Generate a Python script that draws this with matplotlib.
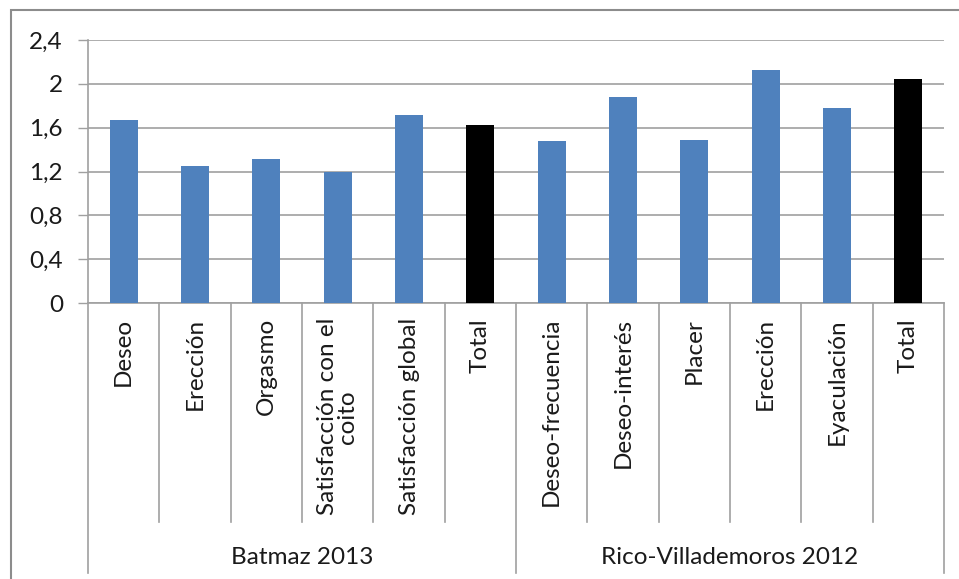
import matplotlib
matplotlib.use("Agg")
import matplotlib.pyplot as plt
import matplotlib.transforms as mtransforms
from matplotlib.patches import Rectangle

# --- data ---
categories = ["Deseo", "Erección", "Orgasmo", "Satisfacción con el\ncoito",
              "Satisfacción global", "Total",
              "Deseo-frecuencia", "Deseo-interés", "Placer", "Erección",
              "Eyaculación", "Total"]
values = [1.67, 1.25, 1.31, 1.20, 1.72, 1.62,
          1.48, 1.88, 1.49, 2.13, 1.78, 2.04]
groups = ["Batmaz 2013", "Rico-Villademoros 2012"]
group_sizes = [6, 6]
y_ticks = [0, 0.4, 0.8, 1.2, 1.6, 2.0, 2.4]
y_labels = ["0", "0,4", "0,8", "1,2", "1,6", "2", "2,4"]

BLUE = "#4f81bd"
GRID = "#a0a0a0"
TEXT = "#1a1a1a"

plt.rcParams["font.family"] = ["Lato", "DejaVu Sans"]

W, H = 959, 579
fig = plt.figure(figsize=(W / 100, H / 100), dpi=100)

# axes box in pixel terms
left, right, top, bottom = 88, 944, 40, 303
ax = fig.add_axes([left / W, 1 - bottom / H, (right - left) / W, (bottom - top) / H])

x = list(range(len(values)))
# the "Total" bar of each group is black
colors = []
for name in categories:
    colors.append("black" if name == "Total" else BLUE)
ax.bar(x, values, width=0.39, color=colors, zorder=3)

ax.set_xlim(-0.5, len(values) - 0.5)
ax.set_ylim(0, 2.4)
ax.set_yticks(y_ticks)
ax.set_yticklabels(y_labels, fontsize=17.5, color=TEXT)
ax.set_xticks([])
ax.yaxis.grid(True, color=GRID, linewidth=1.2, zorder=0)
ax.tick_params(axis="y", length=7, width=1, color=GRID, pad=11)

for s in ["top", "right"]:
    ax.spines[s].set_visible(False)
for s in ["left", "bottom"]:
    ax.spines[s].set_color(GRID)
    ax.spines[s].set_linewidth(1.2)

# category separators under the axis
trans = mtransforms.blended_transform_factory(ax.transData, ax.transAxes)
inner_end = (bottom - 522) / (bottom - top)
outer_end = (bottom - 573) / (bottom - top)
group_edges = [-0.5]
for n in group_sizes:
    group_edges.append(group_edges[-1] + n)
for i in range(len(values) + 1):
    xb = i - 0.5
    y_end = outer_end if xb in group_edges else inner_end
    ax.plot([xb, xb], [0, y_end], transform=trans, color=GRID,
            linewidth=1.2, clip_on=False)

# category labels (rotated)
label_top = (bottom - 318) / (bottom - top)
for xi, name in zip(x, categories):
    ax.text(xi, label_top, name, transform=trans, rotation=90,
            ha="center", va="top", multialignment="center",
            fontsize=17.5, color=TEXT, linespacing=0.95)

# group labels
group_y = (bottom - 557) / (bottom - top)
for gi, name in enumerate(groups):
    xc = (group_edges[gi] + group_edges[gi + 1]) / 2
    ax.text(xc, group_y, name, transform=trans, ha="center", va="center",
            fontsize=17.5, color=TEXT)

# outer chart border (right/bottom edges fall off the picture)
fig.patches.append(Rectangle((11 / W, -0.1), 1.2, 1 - 10 / H + 0.1,
                             transform=fig.transFigure, fill=False,
                             edgecolor="#8c8c8c", linewidth=1.5))

fig.savefig("out.png", dpi=100)
